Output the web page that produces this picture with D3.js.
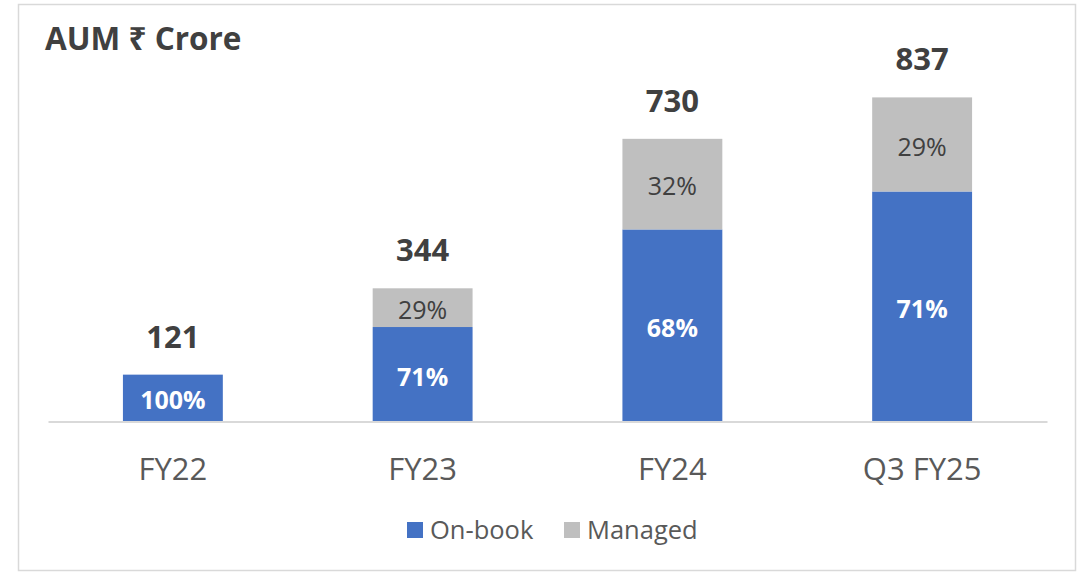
<!DOCTYPE html>
<html><head><meta charset="utf-8">
<script src="https://cdn.jsdelivr.net/npm/d3@7"></script>
<style>html,body{margin:0;padding:0;background:#fff;}svg{display:block;font-family:"Open Sans","Noto Sans",sans-serif;}</style>
</head><body>
<svg id="chart" width="1084" height="572"></svg>
<script>
const categories = ["FY22", "FY23", "FY24", "Q3 FY25"];
const onBook = [121, 244, 496, 594];
const managed = [0, 100, 234, 243];
const seriesNames = ["On-book", "Managed"];
const seriesColors = ["#4472C4", "#BFBFBF"];
const title = "AUM \u20B9 Crore";

const svg = d3.select("#chart");

// outer frame
svg.append("rect").attr("x", 18.5).attr("y", 4.5).attr("width", 1057).attr("height", 566)
  .attr("fill", "#fff").attr("stroke", "#d9d9d9").attr("stroke-width", 1.5);

const data = categories.map((c, i) => ({cat: c, onBook: onBook[i], managed: managed[i], total: onBook[i] + managed[i]}));
const stack = d3.stack().keys(["onBook", "managed"]);
const series = stack(data);

const x = d3.scaleBand().domain(categories).range([48, 1047]).paddingInner(0.6).paddingOuter(0.3);
const y = d3.scaleLinear().domain([0, 900]).range([421.5, 73]);

// bars
series.forEach((s, si) => {
  svg.append("g").selectAll("rect").data(s).join("rect")
    .attr("x", d => x(d.data.cat))
    .attr("width", x.bandwidth())
    .attr("y", d => y(d[1]))
    .attr("height", d => y(d[0]) - y(d[1]))
    .attr("fill", seriesColors[si]);
});

// axis
const axis = d3.axisBottom(x).tickSize(0).tickPadding(0);
const gAxis = svg.append("g").attr("transform", `translate(0,${y(0)})`).call(axis);
gAxis.select(".domain").attr("stroke", "#d9d9d9").attr("stroke-width", 2);
gAxis.selectAll(".tick text").attr("font-size", 31).attr("fill", "#595959")
  .attr("font-family", "'Open Sans','Noto Sans',sans-serif").attr("dy", 0).attr("y", 58);

// segment labels
series.forEach((s, si) => {
  svg.append("g").selectAll("text").data(s.filter(d => d[1] - d[0] > 0)).join("text")
    .attr("x", d => x(d.data.cat) + x.bandwidth() / 2)
    .attr("y", d => (y(d[0]) + y(d[1])) / 2)
    .attr("dy", "0.45em")
    .attr("text-anchor", "middle")
    .attr("font-size", 25)
    .attr("font-weight", si === 0 ? 700 : 400)
    .attr("fill", si === 0 ? "#ffffff" : "#404040")
    .text(d => Math.round((d[1] - d[0]) / d.data.total * 100) + "%");
});

// totals
svg.append("g").selectAll("text").data(data).join("text")
  .attr("x", d => x(d.cat) + x.bandwidth() / 2)
  .attr("y", d => y(d.total) - 27)
  .attr("text-anchor", "middle")
  .attr("font-size", 31).attr("font-weight", 700).attr("fill", "#404040")
  .text(d => d.total);

// title
svg.append("text").attr("x", 45).attr("y", 50).attr("font-size", 31.5).attr("font-weight", 700)
  .attr("fill", "#404040").text(title);

// legend
const legendX = [407, 564];
const lg = svg.append("g").selectAll("g").data(seriesNames).join("g")
  .attr("transform", (d, i) => `translate(${legendX[i]},522)`);
lg.append("rect").attr("width", 16).attr("height", 16).attr("fill", (d, i) => seriesColors[i]);
lg.append("text").attr("x", 23).attr("y", 8).attr("dy", "0.36em").attr("font-size", 25.5)
  .attr("fill", "#595959").text(d => d);
</script>
</body></html>
